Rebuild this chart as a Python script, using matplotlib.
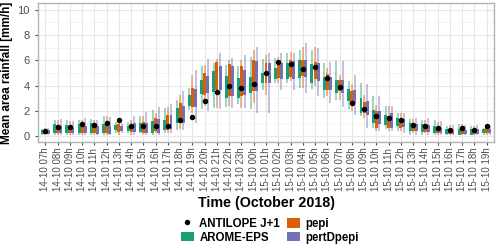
import numpy as np
import matplotlib
matplotlib.use("Agg")
import matplotlib.pyplot as plt
from matplotlib.lines import Line2D
from matplotlib.patches import Patch

plt.rcParams['font.family'] = ['Liberation Sans', 'DejaVu Sans']

times = ['14-10 07h', '14-10 08h', '14-10 09h', '14-10 10h', '14-10 11h', '14-10 12h',
         '14-10 13h', '14-10 14h', '14-10 15h', '14-10 16h', '14-10 17h', '14-10 18h',
         '14-10 19h', '14-10 20h', '14-10 21h', '14-10 22h', '14-10 23h', '15-10 00h',
         '15-10 01h', '15-10 02h', '15-10 03h', '15-10 04h', '15-10 05h', '15-10 06h',
         '15-10 07h', '15-10 08h', '15-10 09h', '15-10 10h', '15-10 11h', '15-10 12h',
         '15-10 13h', '15-10 14h', '15-10 15h', '15-10 16h', '15-10 17h', '15-10 18h',
         '15-10 19h']

# observations
antilope = [0.42, 0.76, 0.76, 1.0, 0.9, 1.02, 1.26, 0.79, 0.81, 0.79, 0.81, 1.29, 1.55,
            2.76, 3.54, 3.96, 3.86, 4.1, 5.0, 5.85, 5.72, 5.33, 5.5, 4.65, 3.88, 2.65,
            2.13, 1.65, 1.47, 1.26, 0.87, 0.81, 0.68, 0.5, 0.68, 0.5, 0.81]

# AROME-EPS : whisker low, q1, q3, whisker high
arome_lo = [0.15, 0.15, 0.15, 0.15, 0.15, 0.15, 0.3, 0.3, 0.25, 0.15, 0.3, 0.5, 2.1,
            2.18, 2.26, 2.34, 2.53, 2.13, 3.7, 4.2, 4.2, 3.83, 3.75, 3.04, 2.9, 2.13,
            1.6, 0.68, 0.55, 0.42, 0.15, 0.15, 0.15, 0.1, 0.1, 0.1, 0.15]
arome_q1 = [0.2, 0.3, 0.3, 0.3, 0.3, 0.3, 0.5, 0.4, 0.34, 0.3, 0.5, 1.02, 2.4,
            3.36, 3.49, 3.04, 3.04, 3.44, 4.18, 4.5, 4.5, 4.6, 4.18, 3.7, 3.44, 2.78,
            1.86, 1.08, 0.87, 0.81, 0.42, 0.34, 0.3, 0.18, 0.15, 0.15, 0.25]
arome_q3 = [0.5, 0.95, 0.87, 0.95, 1.02, 0.97, 0.87, 0.81, 1.02, 1.18, 1.29, 2.26, 3.3,
            4.43, 5.14, 4.75, 4.6, 4.7, 5.0, 5.4, 5.8, 6.0, 5.75, 4.67, 4.49, 3.75,
            3.04, 2.07, 1.73, 1.47, 1.02, 0.95, 0.81, 0.55, 0.6, 0.6, 0.55]
arome_hi = [0.6, 1.3, 1.3, 1.3, 1.4, 1.65, 1.13, 1.15, 1.65, 2.05, 2.26, 2.9, 3.83,
            5.54, 5.8, 5.67, 5.54, 6.3, 6.1, 6.2, 6.6, 6.85, 6.85, 5.8, 5.93, 4.36,
            4.23, 3.23, 2.39, 1.86, 1.34, 1.29, 1.29, 0.8, 0.95, 0.8, 0.68]

# pepi
pepi_lo = [0.15, 0.15, 0.15, 0.15, 0.15, 0.15, 0.15, 0.15, 0.18, 0.24, 0.3, 0.55, 1.86,
           2.39, 2.26, 2.39, 2.26, 2.65, 3.3, 4.2, 4.36, 3.83, 4.0, 3.17, 2.9, 2.0,
           1.47, 0.42, 0.42, 0.42, 0.24, 0.24, 0.15, 0.1, 0.1, 0.1, 0.15]
pepi_q1 = [0.25, 0.25, 0.3, 0.3, 0.25, 0.3, 0.34, 0.34, 0.3, 0.42, 0.5, 1.08, 2.34,
           3.3, 3.7, 3.17, 3.17, 3.57, 4.2, 4.6, 4.7, 4.75, 4.5, 3.7, 3.57, 2.65,
           1.86, 0.68, 0.68, 0.68, 0.42, 0.34, 0.3, 0.18, 0.18, 0.18, 0.25]
pepi_q3 = [0.55, 0.87, 0.81, 0.9, 0.87, 1.02, 0.95, 0.95, 1.13, 1.47, 1.7, 2.6, 3.83,
           5.0, 5.9, 5.75, 5.54, 6.06, 5.8, 6.06, 6.06, 6.0, 5.85, 4.96, 4.49, 3.57,
           2.7, 2.0, 1.6, 1.39, 1.02, 0.95, 0.76, 0.55, 0.68, 0.6, 0.68]
pepi_hi = [0.65, 1.3, 1.25, 1.3, 1.3, 1.65, 1.26, 1.26, 1.65, 1.86, 2.34, 3.3, 4.88,
           5.67, 6.1, 6.06, 6.0, 6.85, 6.45, 6.3, 6.7, 7.1, 7.1, 5.4, 4.88, 4.1,
           3.3, 2.5, 2.44, 1.86, 1.34, 1.29, 1.13, 0.87, 0.95, 0.8, 0.95]

# pertDpepi
pert_lo = [0.1, 0.1, 0.15, 0.1, 0.1, 0.1, 0.3, 0.15, 0.15, 0.15, 0.24, 0.5, 1.08,
           2.0, 2.13, 2.26, 2.26, 1.86, 1.86, 3.7, 3.7, 3.44, 3.2, 2.6, 2.34, 1.73,
           0.68, 0.42, 0.42, 0.24, 0.15, 0.15, 0.15, 0.1, 0.1, 0.08, 0.15]
pert_q1 = [0.2, 0.3, 0.3, 0.25, 0.2, 0.2, 0.45, 0.34, 0.3, 0.3, 0.6, 1.02, 2.34,
           3.39, 3.7, 3.17, 3.3, 3.57, 4.2, 4.5, 4.5, 4.67, 4.36, 3.7, 3.39, 2.6,
           1.73, 0.95, 0.68, 0.74, 0.42, 0.34, 0.24, 0.18, 0.18, 0.18, 0.24]
pert_q3 = [0.5, 0.8, 0.7, 0.81, 0.81, 0.81, 0.84, 1.02, 1.02, 1.34, 1.7, 2.44, 3.75,
           4.75, 5.54, 5.54, 5.27, 5.93, 5.8, 5.8, 5.93, 6.06, 5.8, 4.67, 4.49, 3.65,
           2.78, 2.0, 1.86, 1.34, 0.97, 0.87, 0.68, 0.5, 0.5, 0.55, 0.6]
pert_hi = [0.7, 1.35, 1.2, 1.45, 1.29, 1.55, 1.08, 1.65, 1.9, 2.34, 2.55, 3.55, 5.27,
           6.1, 6.6, 6.2, 6.45, 7.1, 6.6, 6.6, 6.6, 7.37, 7.0, 5.9, 5.93, 4.88,
           4.1, 3.17, 2.44, 1.86, 1.47, 1.47, 1.2, 0.87, 0.87, 0.87, 0.8]

series = [
    ('AROME-EPS', '#1b9e77', arome_lo, arome_q1, arome_q3, arome_hi, -0.25),
    ('pepi', '#d95f02', pepi_lo, pepi_q1, pepi_q3, pepi_hi, 0.0),
    ('pertDpepi', '#7570b3', pert_lo, pert_q1, pert_q3, pert_hi, 0.25),
]

fig = plt.figure(figsize=(5.0, 2.48), dpi=100)
ax = fig.add_axes([0.076, 0.427, 0.912, 0.559])

x = np.arange(1, len(times) + 1)
for name, col, lo, q1, q3, hi, off in series:
    ax.vlines(x + off, lo, hi, color=col, alpha=0.55, lw=1.1, zorder=2)
    ax.bar(x + off, np.array(q3) - np.array(q1), bottom=q1, width=0.24,
           color=col, edgecolor='none', zorder=3)

ax.plot(x, antilope, 'o', color='black', markersize=2.9, zorder=4)

ax.set_xlim(0.4, len(times) + 0.6)
ax.set_ylim(-0.45, 10.5)
ax.set_xticks(x)
ax.set_xticklabels(times, rotation=90, fontsize=7, color='#4d4d4d')
ax.set_yticks([0, 2, 4, 6, 8, 10])
ax.set_yticks([1, 3, 5, 7, 9], minor=True)
ax.tick_params(axis='y', labelsize=8, labelcolor='#4d4d4d', color='#4d4d4d', length=2.5)
ax.tick_params(axis='y', which='minor', length=0)
ax.tick_params(axis='x', color='#4d4d4d', length=2.5, pad=1.5)
ax.grid(True, which='major', color='#e6e6e6', lw=0.8, zorder=0)
ax.grid(True, which='minor', axis='y', color='#f2f2f2', lw=0.5, zorder=0)
ax.set_axisbelow(True)
for s in ax.spines.values():
    s.set_color('#b3b3b3')
    s.set_linewidth(1.0)

ax.set_ylabel('Mean area rainfall [mm/h]', fontsize=8.5, fontweight='bold', labelpad=3)
ax.set_xlabel('Time (October 2018)', fontsize=10.3, fontweight='bold', labelpad=3)

handles = [
    Line2D([], [], marker='o', color='black', linestyle='none', markersize=2.9),
    Patch(facecolor='#1b9e77', edgecolor='none'),
    Patch(facecolor='#d95f02', edgecolor='none'),
    Patch(facecolor='#7570b3', edgecolor='none'),
]
labels = ['ANTILOPE J+1', 'AROME-EPS', 'pepi', 'pertDpepi']
fig.legend(handles, labels, ncol=2, loc='center', bbox_to_anchor=(0.54, 0.07),
           frameon=False, prop={'weight': 'bold', 'size': 8.3},
           handlelength=1.1, handleheight=0.9, handletextpad=0.5,
           columnspacing=0.6, labelspacing=0.15)

fig.savefig('out.png', dpi=100)
